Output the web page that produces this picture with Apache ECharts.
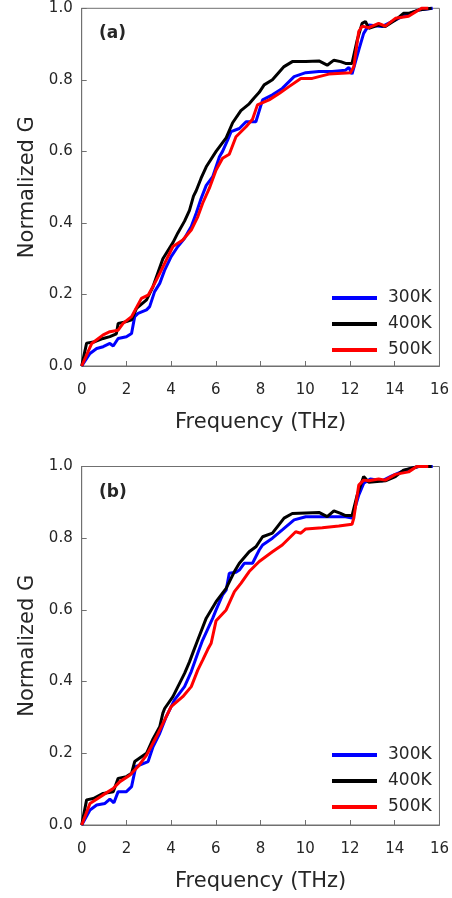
<!DOCTYPE html>
<html><head><meta charset="utf-8">
<script src="https://cdn.jsdelivr.net/npm/echarts@6/dist/echarts.min.js"></script>
<style>html,body{margin:0;padding:0;background:#fff}#c{width:452px;height:898px}</style>
</head><body><div id="c"></div>
<script>
const seriesNames = ['300K', '400K', '500K'];
const xTicks = [0, 2, 4, 6, 8, 10, 12, 14, 16];
const yTicks = [0, 0.2, 0.4, 0.6, 0.8, 1.0];
const panelLabels = ['a', 'b'];

// Panel (a): [frequency THz, normalized G]
const a300 = [[0,0],[0.37,0.035],[0.67,0.049],[0.96,0.054],[1.26,0.063],[1.41,0.056],[1.63,0.077],[2.0,0.082],[2.23,0.091],[2.37,0.138],[2.52,0.147],[2.9,0.157],[3.04,0.166],[3.26,0.208],[3.49,0.231],[3.71,0.268],[4.0,0.306],[4.3,0.334],[4.6,0.357],[4.9,0.39],[5.12,0.427],[5.34,0.468],[5.57,0.505],[5.86,0.529],[6.16,0.585],[6.3,0.6],[6.53,0.632],[6.68,0.655],[7.05,0.664],[7.35,0.683],[7.79,0.683],[8.09,0.744],[8.53,0.758],[8.97,0.776],[9.5,0.809],[10.02,0.82],[10.61,0.823],[11.2,0.823],[11.8,0.827],[11.95,0.835],[12.09,0.816],[12.39,0.883],[12.61,0.93],[12.84,0.953],[13.43,0.949],[13.87,0.963],[14.47,0.981],[15.06,0.995],[15.7,1.0]];
const a400 = [[0,0],[0.22,0.064],[0.59,0.068],[0.96,0.077],[1.26,0.082],[1.55,0.09],[1.63,0.119],[2.0,0.124],[2.23,0.129],[2.45,0.161],[2.9,0.185],[3.19,0.222],[3.63,0.3],[4.08,0.345],[4.3,0.372],[4.6,0.405],[4.82,0.435],[5.0,0.475],[5.12,0.49],[5.34,0.525],[5.57,0.557],[6.01,0.6],[6.46,0.638],[6.75,0.68],[7.12,0.714],[7.49,0.733],[7.72,0.75],[7.94,0.765],[8.16,0.786],[8.53,0.8],[9.05,0.837],[9.42,0.851],[10.02,0.851],[10.61,0.853],[10.98,0.841],[11.28,0.855],[11.58,0.851],[11.8,0.846],[12.09,0.846],[12.32,0.911],[12.54,0.958],[12.69,0.963],[12.84,0.944],[13.28,0.953],[13.58,0.949],[14.03,0.967],[14.39,0.986],[14.62,0.986],[15.06,0.995],[15.65,1.0]];
const a500 = [[0,0],[0.45,0.063],[0.96,0.087],[1.26,0.096],[1.63,0.1],[1.85,0.119],[2.23,0.138],[2.67,0.189],[2.97,0.198],[3.19,0.222],[3.49,0.259],[3.78,0.296],[4.08,0.334],[4.52,0.352],[4.9,0.38],[5.19,0.417],[5.41,0.455],[5.71,0.497],[6.01,0.548],[6.3,0.581],[6.6,0.592],[6.9,0.641],[7.35,0.669],[7.64,0.69],[7.86,0.73],[8.38,0.744],[8.83,0.762],[9.27,0.781],[9.8,0.804],[10.31,0.804],[11.05,0.816],[12.02,0.82],[12.17,0.837],[12.39,0.935],[12.54,0.95],[12.84,0.946],[13.28,0.958],[13.58,0.95],[14.03,0.972],[14.62,0.978],[15.2,1.0],[15.5,1.0]];

// Panel (b)
const b300 = [[0,0],[0.37,0.042],[0.67,0.056],[1.04,0.06],[1.26,0.072],[1.44,0.062],[1.63,0.093],[2.0,0.093],[2.23,0.107],[2.42,0.163],[2.97,0.177],[3.19,0.218],[3.49,0.256],[3.78,0.302],[4.15,0.349],[4.6,0.386],[4.9,0.428],[5.19,0.479],[5.41,0.516],[5.86,0.577],[6.01,0.6],[6.3,0.642],[6.46,0.655],[6.6,0.702],[6.9,0.705],[7.05,0.711],[7.27,0.73],[7.64,0.73],[7.94,0.767],[8.09,0.781],[8.53,0.8],[8.97,0.823],[9.5,0.851],[10.02,0.86],[11.2,0.86],[11.8,0.86],[12.09,0.856],[12.39,0.92],[12.61,0.953],[12.91,0.965],[13.43,0.96],[13.87,0.974],[14.47,0.99],[15.06,1.0],[15.7,1.0]];
const b400 = [[0,0],[0.22,0.07],[0.52,0.074],[0.96,0.088],[1.41,0.093],[1.63,0.13],[2.0,0.135],[2.23,0.144],[2.37,0.177],[2.9,0.2],[3.19,0.24],[3.49,0.274],[3.63,0.312],[3.71,0.325],[4.08,0.358],[4.23,0.377],[4.6,0.423],[4.82,0.455],[5.0,0.485],[5.19,0.516],[5.57,0.577],[6.01,0.623],[6.46,0.66],[6.83,0.707],[7.05,0.73],[7.49,0.762],[7.79,0.776],[8.09,0.804],[8.53,0.814],[9.05,0.856],[9.42,0.869],[10.61,0.872],[10.98,0.86],[11.28,0.876],[11.58,0.869],[11.8,0.863],[12.09,0.863],[12.32,0.92],[12.61,0.972],[12.84,0.956],[13.58,0.96],[14.03,0.972],[14.39,0.99],[15.06,1.0],[15.65,1.0]];
const b500 = [[0,0],[0.37,0.06],[0.96,0.084],[1.41,0.102],[1.71,0.121],[2.15,0.139],[2.52,0.163],[2.9,0.195],[3.34,0.246],[3.71,0.293],[4.0,0.33],[4.52,0.358],[4.9,0.386],[5.19,0.432],[5.41,0.46],[5.64,0.49],[5.79,0.507],[6.01,0.57],[6.46,0.6],[6.83,0.651],[7.12,0.674],[7.49,0.707],[7.94,0.735],[8.53,0.762],[8.97,0.781],[9.57,0.818],[9.8,0.814],[10.02,0.826],[10.76,0.829],[11.5,0.834],[12.09,0.839],[12.17,0.856],[12.39,0.948],[12.61,0.962],[12.84,0.96],[13.28,0.965],[13.58,0.962],[14.03,0.978],[14.62,0.985],[14.99,1.0],[15.5,1.0]];

const colors = ['#0000ff', '#000000', '#ff0000'];
const FONT = 'DejaVu Sans';
const axisGray = '#707070';
const textColor = '#262626';

const grids = [
  {left: 81.7, right: 11.3, top: 8.3, height: 357.7, show: true, borderColor: axisGray, borderWidth: 1},
  {left: 81.7, right: 11.3, top: 466.5, height: 358.5, show: true, borderColor: axisGray, borderWidth: 1}
];

function xAx(i) {
  return {
    type: 'value', gridIndex: i, min: xTicks[0], max: xTicks[xTicks.length - 1], interval: 2,
    name: 'Frequency (THz)', nameLocation: 'middle', nameGap: 46,
    nameTextStyle: {fontFamily: FONT, fontSize: 21, color: textColor},
    axisLine: {lineStyle: {color: axisGray, width: 1}},
    axisTick: {inside: true, length: 5, lineStyle: {color: axisGray}},
    axisLabel: {fontFamily: FONT, fontSize: 15, color: textColor, margin: 17},
    splitLine: {show: false}
  };
}
function yAx(i) {
  return {
    type: 'value', gridIndex: i, min: yTicks[0], max: yTicks[yTicks.length - 1], interval: 0.2,
    name: 'Normalized G', nameLocation: 'middle', nameGap: 36, nameRotate: 90,
    nameTextStyle: {fontFamily: FONT, fontSize: 21, color: textColor},
    axisLine: {lineStyle: {color: axisGray, width: 1}},
    axisTick: {inside: true, length: 5, lineStyle: {color: axisGray}},
    axisLabel: {fontFamily: FONT, fontSize: 15, color: textColor, margin: 9, formatter: v => v.toFixed(1)},
    splitLine: {show: false}
  };
}

const panelData = [[a300, a400, a500], [b300, b400, b500]];
const series = [];
panelData.forEach((arr, p) => {
  arr.forEach((d, k) => {
    series.push({
      name: seriesNames[k], type: 'line', xAxisIndex: p, yAxisIndex: p, data: d,
      showSymbol: false, symbol: 'none', lineStyle: {color: colors[k], width: 3}, itemStyle: {color: colors[k]},
      z: 2 + k, clip: false
    });
  });
});

const legendTops = [283, 740];
const legends = legendTops.map(t => ({
  orient: 'vertical', left: 327, top: t, itemWidth: 45, itemHeight: 4, itemGap: 6, icon: 'rect',
  data: seriesNames.map((n, k) => ({name: n, itemStyle: {color: colors[k]}})),
  textStyle: {fontFamily: FONT, fontSize: 17, color: textColor, lineHeight: 20, padding: [0, 0, 0, 6]},
  selectedMode: false
}));

const labelTops = [31, 490];
const titles = labelTops.map((t, i) => ({
  text: '{n|(}{b|' + panelLabels[i] + '}{n|)}', left: 94, top: t - 11,
  textStyle: {rich: {n: {fontFamily: FONT, fontSize: 17, color: textColor}, b: {fontFamily: FONT, fontSize: 17, fontWeight: 'bold', color: textColor}}}
}));

const chart = echarts.init(document.getElementById('c'), null, {renderer: 'canvas'});
chart.setOption({
  animation: false,
  backgroundColor: '#fff',
  title: titles,
  legend: legends,
  grid: grids,
  xAxis: [xAx(0), xAx(1)],
  yAxis: [yAx(0), yAx(1)],
  series: series
});
</script></body></html>
